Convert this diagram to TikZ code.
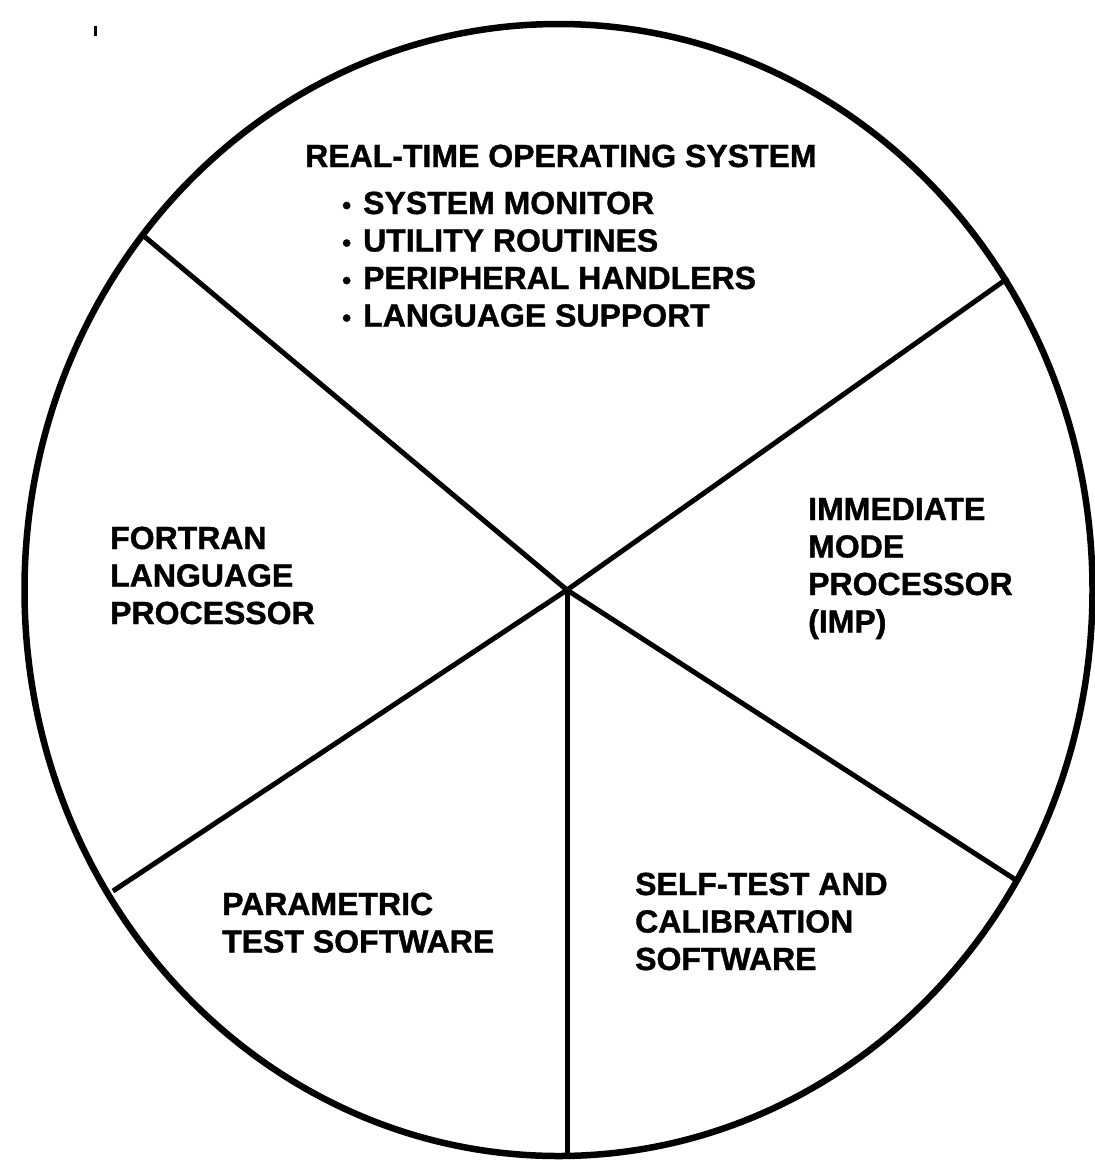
\documentclass[tikz,border=0pt]{standalone}
\usepackage{fontspec}
\setmainfont{Liberation Sans}[BoldFeatures={FakeBold=1.2}]
\begin{document}
\begin{tikzpicture}[x=1pt,y=-1pt,
  rim/.style={line width=6.5pt},
  spoke/.style={line width=5pt},
  lbl/.style={anchor=base west,inner sep=0pt,font=\bfseries\fontsize{32}{37.5}\selectfont}]
\useasboundingbox (0,0) rectangle (1095,1160);
% outer rim
\draw[rim] (558.5,590) ellipse [x radius=534, y radius=566];
% hub and spoke ends
\coordinate (hub) at (567,590);
\coordinate (ul) at (145,237);
\coordinate (ur) at (1008,278);
\coordinate (lr) at (1019,882);
\coordinate (ll) at (113,891);
\coordinate (bt) at (567,1156);
\draw[spoke] (hub) -- (ul);
\draw[spoke] (hub) -- (ur);
\draw[spoke] (hub) -- (lr);
\draw[spoke] (hub) -- (ll);
\draw[spoke] (hub) -- (bt);
% speck
\fill (93.5,26) rectangle (96.5,36);
% labels
\node[lbl] (rtos) at (305,167) {REAL-TIME OPERATING SYSTEM};
\node[lbl] (items) at (342,214) {\begin{tabular}[t]{@{}l@{\hspace{12pt}}l@{}}
\scalebox{0.8}{•} & SYSTEM MONITOR\\
\scalebox{0.8}{•} & UTILITY ROUTINES\\
\scalebox{0.8}{•} & PERIPHERAL HANDLERS\\
\scalebox{0.8}{•} & LANGUAGE SUPPORT
\end{tabular}};
\node[lbl] (fortran) at (110,549) {\begin{tabular}[t]{@{}l@{}}FORTRAN\\LANGUAGE\\PROCESSOR\end{tabular}};
\node[lbl] (imp) at (808,520) {\begin{tabular}[t]{@{}l@{}}IMMEDIATE\\MODE\\PROCESSOR\\(IMP)\end{tabular}};
\node[lbl] (self) at (635,895) {\begin{tabular}[t]{@{}l@{}}SELF-TEST AND\\CALIBRATION\\SOFTWARE\end{tabular}};
\node[lbl] (param) at (222,915) {\begin{tabular}[t]{@{}l@{}}PARAMETRIC\\TEST SOFTWARE\end{tabular}};
\end{tikzpicture}
\end{document}
